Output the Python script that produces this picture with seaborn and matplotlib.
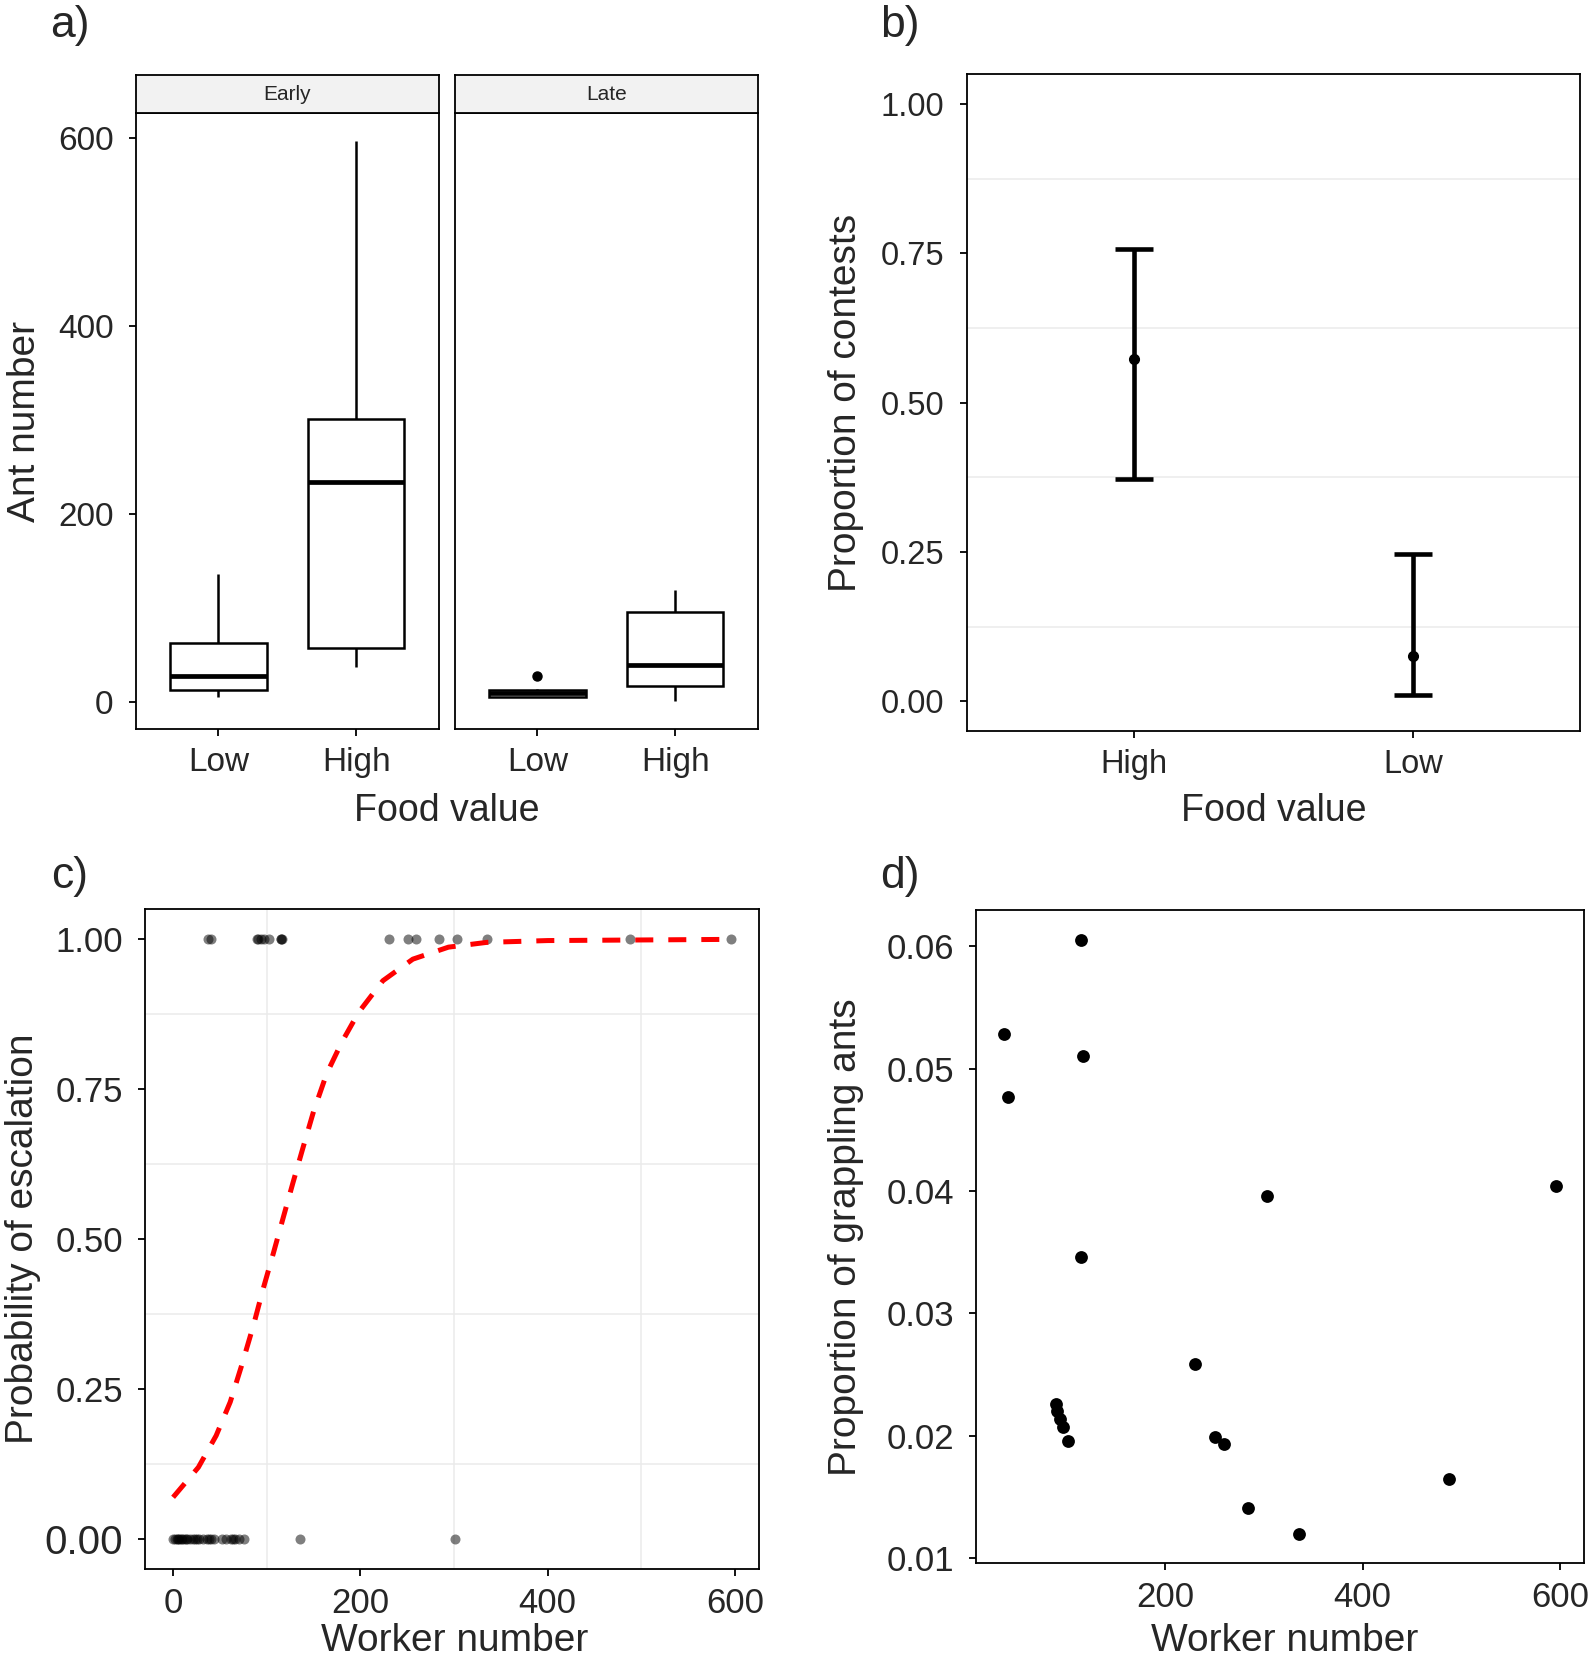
import numpy as np
import pandas as pd
import seaborn as sns
import matplotlib.pyplot as plt

# ---- data ----
# a) ant number per food value, faceted by period
periods = ["Early", "Late"]
food_levels = ["Low", "High"]
early_low = [5, 13, 28, 63, 136]
early_high = [37, 58, 234, 301, 596]
late_low = [5, 5.5, 6, 8, 9.5, 11, 13, 14, 27.5]
late_high = [1, 17, 40, 96, 119]

# b) proportion of contests with 95% CI
food_b = ["High", "Low"]
prop_b = [0.573, 0.076]
lo_b = [0.373, 0.011]
hi_b = [0.757, 0.246]

# c) escalation (0/1) vs worker number, with fitted curve
workers_esc = [36.8, 41, 89.4, 91.1, 93.7, 97.1, 102.1, 114.7, 114.7, 116.8,
               230.9, 251.1, 259.4, 283.7, 303.5, 335.5, 487.5, 595.7]
workers_noesc = [0, 2, 4, 5, 6, 8, 10, 12, 14, 15, 18, 21, 23, 25, 28, 32, 36,
                 38, 40, 44, 52, 57, 62, 64, 66, 70, 76, 136, 301]
curve_x = [0, 27, 46, 61, 73, 86, 96, 107, 118, 128, 139, 150, 164, 180, 198,
           224, 256, 294, 335, 400, 500, 596]
curve_y = [0.069, 0.119, 0.172, 0.228, 0.288, 0.357, 0.416, 0.476, 0.538,
           0.594, 0.654, 0.713, 0.776, 0.828, 0.878, 0.931, 0.967, 0.987,
           0.995, 0.998, 0.999, 1.0]

# d) proportion of grappling ants vs worker number
grapple_x = workers_esc
grapple_y = [0.0528, 0.0477, 0.0226, 0.0220, 0.0214, 0.0207, 0.0196, 0.0605,
             0.0346, 0.0510, 0.0259, 0.0199, 0.0193, 0.0141, 0.0396, 0.0120,
             0.0165, 0.0404]

# ---- style ----
sns.set_style("ticks")
plt.rcParams["font.family"] = ["Liberation Sans", "DejaVu Sans"]
plt.rcParams["axes.linewidth"] = 1.3
plt.rcParams["axes.edgecolor"] = "black"

W, H = 1594, 1662
fig = plt.figure(figsize=(W / 100, H / 100), dpi=100)


def rect(l, t, r, b):
    return [l / W, 1 - b / H, (r - l) / W, (b - t) / H]


def expand(vals, f=0.05):
    lo, hi = min(vals), max(vals)
    d = (hi - lo) * f
    return lo - d, hi + d


def style_ticks(ax, size):
    ax.tick_params(length=5, width=1.3, color="black", labelsize=size)
    ax.tick_params(axis="y", pad=11)
    ax.tick_params(axis="x", pad=8)


# ---- a) ----
groups = {("Early", "Low"): early_low, ("Early", "High"): early_high,
          ("Late", "Low"): late_low, ("Late", "High"): late_high}
rows = []
for (per, food), vals in groups.items():
    for v in vals:
        rows.append({"period": per, "food": food, "ants": v})
df_a = pd.DataFrame(rows)
ylim_a = expand(df_a["ants"])

facet_x = {"Early": (135.7, 438.8), "Late": (454.7, 757.8)}
for i, per in enumerate(periods):
    l, r = facet_x[per]
    ax = fig.add_axes(rect(l, 113.4, r, 729.2))
    sns.boxplot(data=df_a[df_a["period"] == per], x="food", y="ants",
                order=food_levels, color="white", linecolor="black",
                linewidth=1.8, width=0.7, showcaps=False,
                medianprops=dict(linewidth=3.4, color="black"),
                flierprops=dict(marker="o", markerfacecolor="black",
                                markeredgecolor="black", markersize=6.5),
                ax=ax)
    ax.set_xlim(-0.6, 1.6)
    ax.set_ylim(*ylim_a)
    ax.set_xlabel("")
    style_ticks(ax, 24)
    if i == 0:
        ax.set_yticks([0, 200, 400, 600])
        ax.set_ylabel("Ant number", fontsize=28)
        ax.yaxis.set_label_coords(-0.306, 0.5)
    else:
        ax.set_yticks([])
        ax.set_ylabel("")
    sax = fig.add_axes(rect(l, 75.3, r, 113.4))
    sax.set_facecolor("#F2F2F2")
    sax.set_xticks([])
    sax.set_yticks([])
    sax.text(0.5, 0.5, per, ha="center", va="center", fontsize=15,
             transform=sax.transAxes)
fig.text(446.8 / W, 1 - 793 / H, "Food value", ha="center", va="top",
         fontsize=27)

# ---- b) ----
axb = fig.add_axes(rect(966.6, 74.2, 1580.3, 731.3))
pos_b = np.arange(len(food_b))
prop = np.array(prop_b)
axb.errorbar(pos_b, prop, yerr=[prop - np.array(lo_b), np.array(hi_b) - prop],
             fmt="o", color="black", markersize=7, elinewidth=3.3,
             capsize=14, capthick=3.3, zorder=3)
axb.set_xlim(-0.6, 1.6)
axb.set_ylim(-0.05, 1.05)
axb.set_xticks(pos_b)
axb.set_xticklabels(food_b)
axb.set_yticks([0, 0.25, 0.5, 0.75, 1.0])
axb.set_yticklabels(["0.00", "0.25", "0.50", "0.75", "1.00"])
axb.set_yticks([0.125, 0.375, 0.625, 0.875], minor=True)
axb.tick_params(which="minor", length=0)
axb.grid(which="minor", axis="y", color="#EBEBEB", linewidth=1.1)
axb.set_axisbelow(True)
style_ticks(axb, 23.5)
axb.set_xlabel("Food value", fontsize=27)
axb.xaxis.set_label_coords(0.5, -0.094)
axb.set_ylabel("Proportion of contests", fontsize=28)
axb.yaxis.set_label_coords(-0.167, 0.5)

# ---- c) ----
axc = fig.add_axes(rect(145.2, 909.4, 758.9, 1568.6))
df_c = pd.DataFrame({
    "workers": workers_esc + workers_noesc,
    "escalated": [1] * len(workers_esc) + [0] * len(workers_noesc)})
sns.scatterplot(data=df_c, x="workers", y="escalated", color="black",
                alpha=0.5, s=52, linewidth=0, ax=axc, zorder=3)
sns.lineplot(x=curve_x, y=curve_y, color="red", linewidth=3.6,
             linestyle=(0, (3.6, 3.0)), ax=axc, zorder=4)
axc.set_xlim(*expand(df_c["workers"]))
axc.set_ylim(-0.05, 1.05)
axc.set_xticks([0, 200, 400, 600])
axc.set_yticks([0, 0.25, 0.5, 0.75, 1.0])
axc.set_yticklabels(["0.00", "0.25", "0.50", "0.75", "1.00"])
axc.set_xticks([100, 300, 500], minor=True)
axc.set_yticks([0.125, 0.375, 0.625, 0.875], minor=True)
axc.tick_params(which="minor", length=0)
axc.grid(which="minor", color="#EBEBEB", linewidth=1.1)
axc.set_axisbelow(True)
style_ticks(axc, 25)
axc.get_yticklabels()[0].set_fontsize(29)
axc.set_xlabel("Worker number", fontsize=28)
axc.xaxis.set_label_coords(0.505, -0.083)
axc.set_ylabel("Probability of escalation", fontsize=28)
axc.yaxis.set_label_coords(-0.170, 0.5)

# ---- d) ----
axd = fig.add_axes(rect(976.1, 910.4, 1583.5, 1563.3))
sns.scatterplot(x=grapple_x, y=grapple_y, color="black", s=85, linewidth=0,
                ax=axd)
axd.set_xlim(*expand(grapple_x))
axd.set_ylim(*expand(grapple_y))
axd.set_xticks([200, 400, 600])
axd.set_yticks([0.01, 0.02, 0.03, 0.04, 0.05, 0.06])
axd.set_yticklabels(["0.01", "0.02", "0.03", "0.04", "0.05", "0.06"])
style_ticks(axd, 25)
axd.set_xlabel("Worker number", fontsize=28)
axd.xaxis.set_label_coords(0.508, -0.091)
axd.set_ylabel("Proportion of grappling ants", fontsize=28)
axd.yaxis.set_label_coords(-0.185, 0.5)

# panel letters
for lab, x, y in [("a)", 50, 37), ("b)", 880, 37), ("c)", 51, 888),
                  ("d)", 880, 888)]:
    fig.text(x / W, 1 - y / H, lab, ha="left", va="baseline", fontsize=32)

fig.savefig("out.png", dpi=100)
